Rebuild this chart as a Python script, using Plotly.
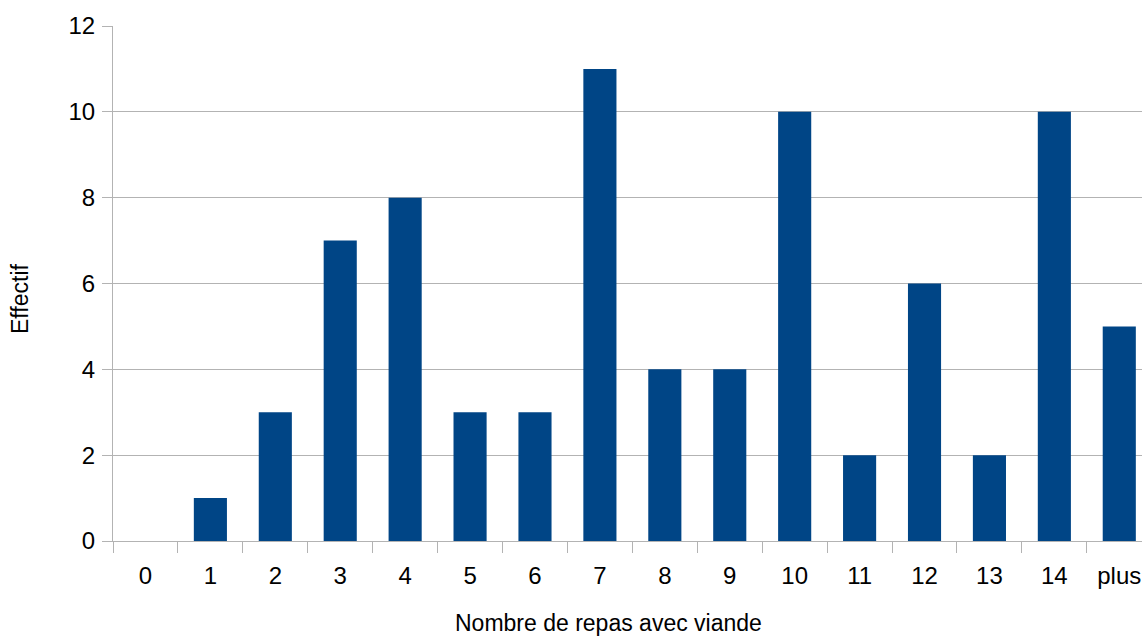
import plotly.graph_objects as go

categories = ["0", "1", "2", "3", "4", "5", "6", "7", "8", "9", "10", "11", "12", "13", "14", "plus"]
effectif = [0, 1, 3, 7, 8, 3, 3, 11, 4, 4, 10, 2, 6, 2, 10, 5]

W, H = 1142, 637
ML, MR, MT, MB = 113, 0, 26, 96
FONT = "Liberation Sans, Arial, sans-serif"

fig = go.Figure(go.Bar(
    x=categories, y=effectif,
    marker=dict(color="#004586", line=dict(width=0)),
    width=0.51,
))

pw = W - ML - MR
ph = H - MT - MB

fig.update_layout(
    width=W, height=H,
    margin=dict(l=ML, r=MR, t=MT, b=MB, pad=0),
    paper_bgcolor="white", plot_bgcolor="white",
    showlegend=False,
    font=dict(family=FONT, color="black"),
    xaxis=dict(
        type="category",
        range=[-0.5, 15.35],
        tickson="boundaries",
        ticks="outside", ticklen=11, tickcolor="#b3b3b3", tickwidth=1,
        showgrid=False, showline=True, linecolor="#b3b3b3", linewidth=1,
        tickfont=dict(size=24, family=FONT, color="black"),
        ticklabelstandoff=13,
        zeroline=False,
    ),
    yaxis=dict(
        range=[0, 12], dtick=2,
        ticks="outside", ticklen=10, tickcolor="#b3b3b3", tickwidth=1,
        showgrid=True, gridcolor="#b3b3b3", gridwidth=1,
        showline=True, linecolor="#b3b3b3", linewidth=1,
        zeroline=False,
        tickfont=dict(size=24, family=FONT, color="black"),
        ticklabelstandoff=2,
    ),
    annotations=[
        dict(text="Nombre de repas avec viande", xref="paper", yref="paper",
             x=(608 - ML) / pw, y=(H - MB - 623) / ph, xanchor="center", yanchor="middle",
             showarrow=False, font=dict(size=23, family=FONT, color="black")),
        dict(text="Effectif", xref="paper", yref="paper",
             x=(20 - ML) / pw, y=(H - MB - 299) / ph, xanchor="center", yanchor="middle",
             textangle=-90, showarrow=False, font=dict(size=23, family=FONT, color="black")),
    ],
)

fig.write_html(
    "out.html",
    config={"displayModeBar": False},
    post_script="document.body.style.margin='0';document.body.style.overflow='hidden';",
)
